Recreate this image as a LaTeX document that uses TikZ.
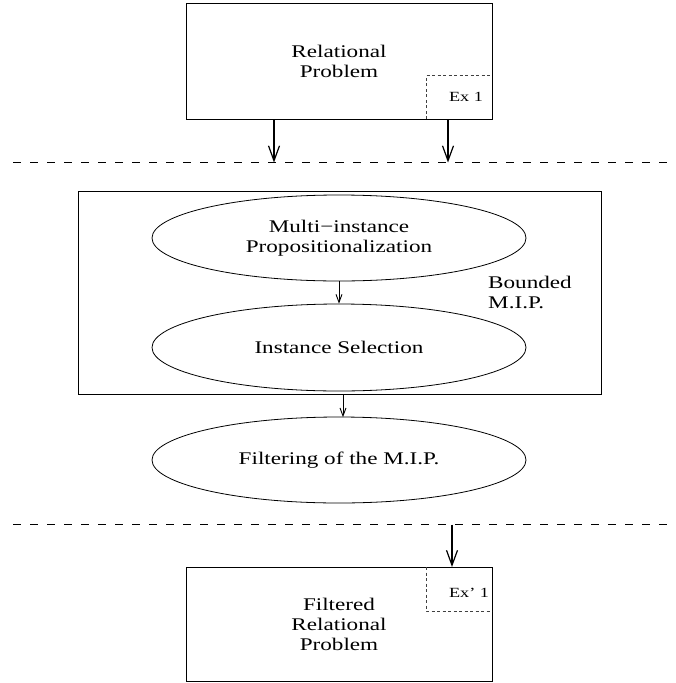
\documentclass[tikz,border=0pt]{standalone}
\usepackage{fontspec}
\setmainfont{Liberation Serif}[FakeStretch=1.3]
\usetikzlibrary{shapes.geometric,arrows.meta}
\begin{document}
\begin{tikzpicture}[x=1pt,y=-1pt,
 box/.style={draw,line width=1pt,rectangle,inner sep=0pt,align=center,font=\fontsize{17.8}{20}\selectfont},
 oval/.style={draw,line width=0.8pt,ellipse,minimum width=374pt,minimum height=86pt,inner sep=0pt,align=center,font=\fontsize{17.8}{20}\selectfont},
 lbl/.style={inner sep=0pt,align=left,font=\fontsize{17.8}{20}\selectfont},
 smalllbl/.style={inner sep=0pt,font=\fontsize{14}{16}\selectfont},
 sepline/.style={line width=1pt,dash pattern=on 8pt off 9pt},
 subdash/.style={line width=0.9pt,black!75,dash pattern=on 3pt off 2.5pt},
 bigarrow/.style={line width=1.2pt,-{Straight Barb[length=15pt,width=11pt]}},
 smallarrow/.style={line width=0.9pt,-{Straight Barb[length=8pt,width=6pt]}},
]
\useasboundingbox (0,0) rectangle (675,683);

% top box
\node[box,minimum width=306pt,minimum height=115.5pt] (top) at (339,61.25) {Relational\\Problem};
\coordinate (tsA) at (426,119);
\coordinate (tsB) at (426,75.5);
\coordinate (tsC) at (492,75.5);
\draw[subdash] (tsA) -- (tsB) -- (tsC);
\node[smalllbl] (ex1) at (466,97) {Ex 1};

% first separator
\coordinate (L1a) at (13,162.5);
\coordinate (L1b) at (675,162.5);
\draw[sepline] (L1a) -- (L1b);
\coordinate (t1) at (274,119);
\coordinate (t2) at (448,119);
\coordinate (d1) at (274,162.5);
\coordinate (d2) at (448,162.5);
\draw[bigarrow] (t1) -- (d1);
\draw[bigarrow] (t2) -- (d2);

% bounded MIP box
\node[draw,line width=1pt,rectangle,minimum width=523pt,minimum height=203pt,inner sep=0pt] (mid) at (339.5,292.5) {};
\node[oval] (e1) at (339,238) {Multi−instance\\Propositionalization};
\node[oval,minimum height=87pt] (e2) at (339,347.5) {Instance Selection};
\node[lbl,anchor=west] (bmip) at (488,292.5) {Bounded\\M.I.P.};
\draw[smallarrow] (e1.south) -- (e2.north);

% filtering
\node[oval] (e3) at (339,460) {Filtering of the M.I.P.};
\coordinate (m3) at (343,394);
\coordinate (e3t) at (343,417.2);
\draw[smallarrow] (m3) -- (e3t);

% second separator
\coordinate (L2a) at (13,524.5);
\coordinate (L2b) at (675,524.5);
\draw[sepline] (L2a) -- (L2b);

% bottom box
\node[box,minimum width=306pt,minimum height=114pt] (bot) at (339,624) {Filtered\\Relational\\Problem};
\coordinate (d3) at (452,524.5);
\coordinate (b3) at (452,567);
\draw[bigarrow] (d3) -- (b3);
\coordinate (bsA) at (426,567);
\coordinate (bsB) at (426,611);
\coordinate (bsC) at (492,611);
\draw[subdash] (bsA) -- (bsB) -- (bsC);
\node[smalllbl] (ex2) at (469,592.5) {Ex’ 1};
\end{tikzpicture}
\end{document}
